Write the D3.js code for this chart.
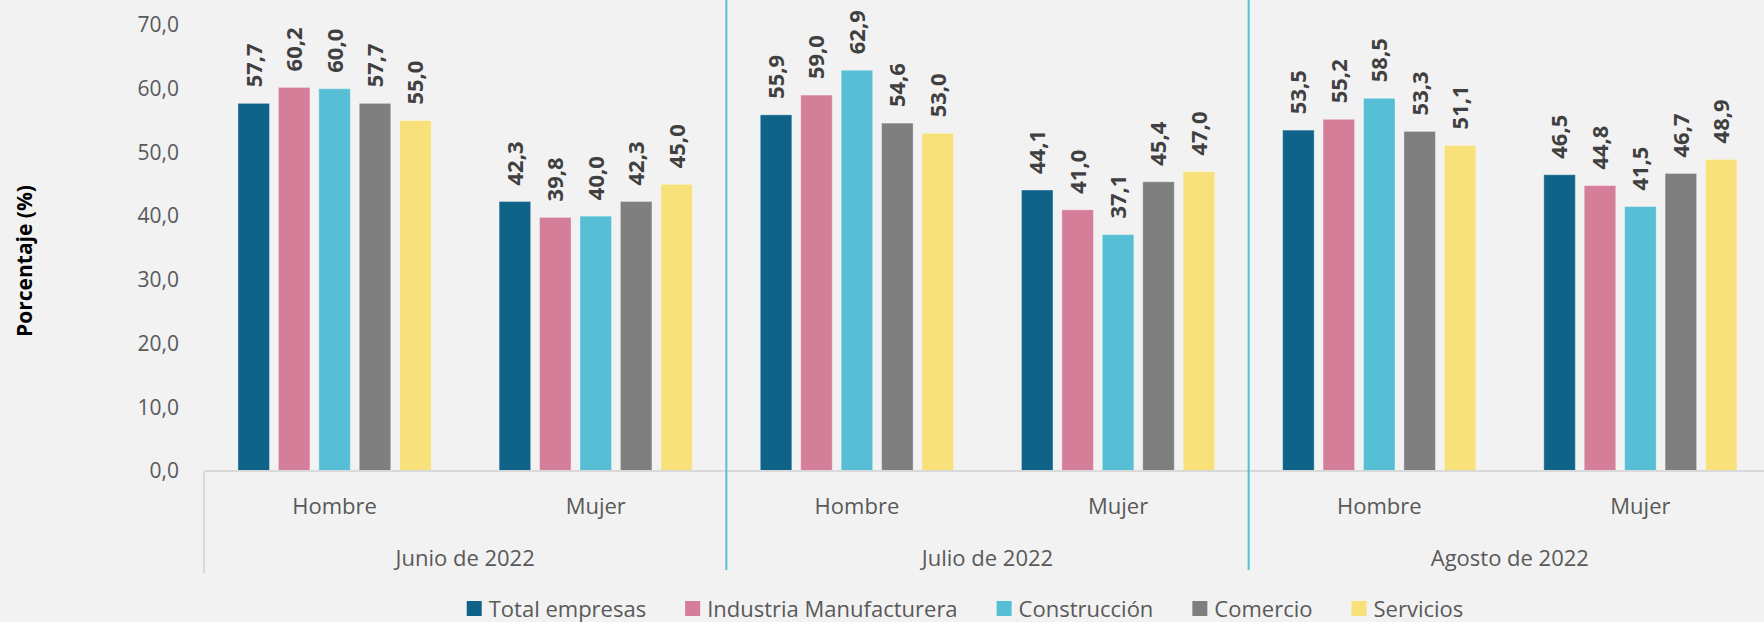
<!DOCTYPE html>
<html>
<head>
<meta charset="utf-8">
<script src="https://cdn.jsdelivr.net/npm/d3@7"></script>
<style>
  html, body { margin: 0; padding: 0; background: #f2f2f2; }
  svg { display: block; font-family: "Open Sans", "Noto Sans", sans-serif; }
</style>
</head>
<body>
<script>
// datos del grafico (porcentaje por sexo y mes)
var meses = ["Junio de 2022", "Julio de 2022", "Agosto de 2022"];
var sexos = ["Hombre", "Mujer"];
var series = ["Total empresas", "Industria Manufacturera", "Construcción", "Comercio", "Servicios"];
var colores = ["#0f6389", "#d47e99", "#56bfd6", "#7f7f7f", "#f8e07a"];

var totalEmpresas = [57.7, 42.3, 55.9, 44.1, 53.5, 46.5];
var industria     = [60.2, 39.8, 59.0, 41.0, 55.2, 44.8];
var construccion  = [60.0, 40.0, 62.9, 37.1, 58.5, 41.5];
var comercio      = [57.7, 42.3, 54.6, 45.4, 53.3, 46.7];
var servicios     = [55.0, 45.0, 53.0, 47.0, 51.1, 48.9];
var yTicks = [0, 10, 20, 30, 40, 50, 60, 70];

var valores = [totalEmpresas, industria, construccion, comercio, servicios];

var width = 1764, height = 622;
// el area del grafico sigue un poco mas alla del borde derecho
var margin = {top: 25, right: -7, bottom: 151, left: 204};

var locale = d3.formatLocale({decimal: ",", thousands: ".", grouping: [3], currency: ["", ""]});
var fmt = locale.format(".1f");

// una categoria por mes y sexo
var categorias = [];
meses.forEach(function(m, i){
    sexos.forEach(function(s){
        categorias.push({id: i + "_" + s, mes: m, sexo: s});
    });
});

var filas = [];
categorias.forEach(function(c, i){
    series.forEach(function(s, j){
        filas.push({cat: c.id, serie: s, valor: valores[j][i], color: colores[j]});
    });
});

var svg = d3.select("body").append("svg")
    .attr("width", width)
    .attr("height", height);

var x0 = d3.scaleBand()
    .domain(categorias.map(function(c){ return c.id; }))
    .range([margin.left, width - margin.right]);

var xMes = d3.scaleBand()
    .domain(meses)
    .range([margin.left, width - margin.right]);

var x1 = d3.scaleBand()
    .domain(series)
    .range([0, x0.bandwidth()])
    .paddingInner(0.22)
    .paddingOuter(0.84);

var y = d3.scaleLinear()
    .domain([0, 70])
    .range([height - margin.bottom, margin.top]);

// eje y
var gY = svg.append("g")
    .attr("transform", "translate(" + margin.left + ",0)")
    .call(d3.axisLeft(y).tickValues(yTicks).tickSize(0).tickPadding(25).tickFormat(fmt));
gY.select(".domain").remove();
gY.selectAll("text")
    .attr("fill", "#595959")
    .style("font-size", "21px")
    .style("font-family", "'Open Sans', sans-serif");

svg.append("text")
    .attr("transform", "translate(25,261) rotate(-90)")
    .attr("text-anchor", "middle")
    .attr("dy", "0.35em")
    .style("font-size", "21px")
    .style("font-weight", "bold")
    .attr("fill", "#000")
    .text("Porcentaje (%)");

// barras
svg.append("g").selectAll("rect")
    .data(filas)
    .enter().append("rect")
    .attr("x", function(d){ return x0(d.cat) + x1(d.serie); })
    .attr("y", function(d){ return y(d.valor); })
    .attr("width", x1.bandwidth())
    .attr("height", function(d){ return y(0) - y(d.valor); })
    .attr("fill", function(d){ return d.color; })
    .attr("stroke", "rgba(255,255,255,0.35)")
    .attr("stroke-width", 1);

// etiquetas de datos
svg.append("g").selectAll("text")
    .data(filas)
    .enter().append("text")
    .attr("transform", function(d){
        var cx = x0(d.cat) + x1(d.serie) + x1.bandwidth() / 2;
        return "translate(" + cx + "," + (y(d.valor) - 16) + ") rotate(-90)";
    })
    .attr("dy", "0.36em")
    .attr("text-anchor", "start")
    .style("font-size", "22px")
    .style("font-weight", "bold")
    .attr("fill", "#404040")
    .text(function(d){ return fmt(d.valor); });

// linea base
svg.append("line")
    .attr("x1", margin.left).attr("x2", width)
    .attr("y1", y(0)).attr("y2", y(0))
    .attr("stroke", "#d9d9d9")
    .attr("stroke-width", 2);

var yFondo = 573;

svg.append("line")
    .attr("x1", margin.left).attr("x2", margin.left)
    .attr("y1", y(0)).attr("y2", yFondo)
    .attr("stroke", "#d9d9d9")
    .attr("stroke-width", 2);

// separadores entre meses
svg.append("g").selectAll("line")
    .data(meses.slice(1))
    .enter().append("line")
    .attr("x1", function(m){ return xMes(m); })
    .attr("x2", function(m){ return xMes(m); })
    .attr("y1", 0)
    .attr("y2", yFondo - 3)
    .attr("stroke", "#56bfd6")
    .attr("stroke-width", 2);

// etiquetas de sexo
var gX = svg.append("g")
    .attr("transform", "translate(0," + y(0) + ")")
    .call(d3.axisBottom(x0).tickSize(0).tickPadding(27).tickFormat(function(id){
        return categorias.filter(function(c){ return c.id == id; })[0].sexo;
    }));
gX.select(".domain").remove();
gX.selectAll("text")
    .attr("fill", "#595959")
    .style("font-size", "22px")
    .style("font-family", "'Open Sans', sans-serif");

// etiquetas de mes
svg.append("g").selectAll("text")
    .data(meses)
    .enter().append("text")
    .attr("x", function(m){ return xMes(m) + xMes.bandwidth() / 2; })
    .attr("y", 558)
    .attr("dy", "0.35em")
    .attr("text-anchor", "middle")
    .attr("fill", "#595959")
    .style("font-size", "22px")
    .text(function(m){ return m; });

// leyenda
var legend = svg.append("g");
var items = legend.selectAll("g")
    .data(series)
    .enter().append("g");
items.append("rect")
    .attr("width", 15).attr("height", 15)
    .attr("y", -8)
    .attr("fill", function(d, i){ return colores[i]; });
items.append("text")
    .attr("x", 22)
    .attr("dy", "0.35em")
    .attr("fill", "#595959")
    .style("font-size", "22px")
    .text(function(d){ return d; });

var posX = 0;
items.each(function(){
    var g = d3.select(this);
    g.attr("transform", "translate(" + posX + ",0)");
    posX += 22 + g.select("text").node().getComputedTextLength() + 39;
});
var anchoLeyenda = posX - 39;
legend.attr("transform", "translate(" + (965 - anchoLeyenda / 2) + ",609)");
</script>
</body>
</html>
